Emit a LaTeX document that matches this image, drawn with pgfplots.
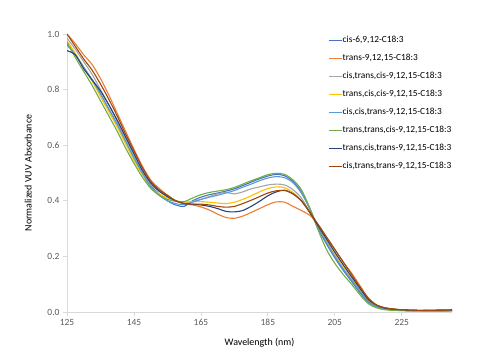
\documentclass[border=0pt]{standalone}
\usepackage{pgfplots}
\usepackage{pgfplotstable}
\pgfplotsset{compat=1.18}
\usepackage{fontspec}
\setmainfont{Carlito}
\definecolor{sA}{HTML}{4472C4}
\definecolor{sB}{HTML}{ED7D31}
\definecolor{sC}{HTML}{A5A5A5}
\definecolor{sD}{HTML}{FFC000}
\definecolor{sE}{HTML}{5B9BD5}
\definecolor{sF}{HTML}{70AD47}
\definecolor{sG}{HTML}{264478}
\definecolor{sH}{HTML}{9E480E}
\definecolor{axgray}{HTML}{D9D9D9}
\definecolor{txtgray}{HTML}{595959}
\pgfplotstableread{
x     a     b     c     d     e     f     g     h
125   .965  1.00  .985  .975  .96   .97   .94   1.00
127.5 .925  .965  .945  .93   .925  .915  .925  .955
130   .88   .925  .90   .88   .88   .865  .875  .91
132.5 .835  .89   .855  .83   .835  .815  .835  .87
135   .785  .84   .80   .775  .785  .76   .795  .82
137.5 .73   .78   .745  .72   .73   .705  .745  .765
140   .675  .715  .685  .665  .675  .65   .69   .705
142.5 .615  .65   .625  .605  .615  .59   .63   .64
145   .555  .585  .565  .545  .555  .535  .57   .58
147.5 .50   .525  .51   .495  .50   .485  .51   .52
150   .455  .475  .46   .45   .45   .445  .465  .47
152.5 .425  .445  .435  .425  .42   .42   .435  .44
155   .40   .42   .415  .41   .40   .405  .415  .42
157.5 .385  .40   .40   .40   .39   .398  .40   .40
160   .38   .39   .392  .395  .386  .397  .39   .39
162.5 .40   .385  .398  .397  .395  .41   .388  .388
165   .413  .378  .405  .397  .405  .422  .385  .388
167.5 .422  .367  .415  .395  .413  .43   .38   .385
170   .428  .352  .425  .392  .42   .435  .372  .38
172.5 .435  .34   .43   .39   .428  .44   .362  .377
175   .443  .337  .425  .395  .437  .448  .36   .38
177.5 .455  .345  .432  .405  .449  .46   .365  .39
180   .467  .358  .443  .418  .46   .472  .38   .402
182.5 .479  .372  .45   .432  .472  .483  .398  .415
185   .489  .386  .457  .444  .482  .494  .418  .428
187.5 .495  .396  .46   .45   .487  .499  .432  .436
190   .49   .395  .457  .447  .483  .495  .438  .437
192.5 .47   .38   .44   .43   .465  .475  .425  .425
195   .432  .365  .41   .40   .428  .44   .40   .40
197.5 .372  .348  .36   .358  .372  .375  .358  .36
200   .30   .315  .305  .305  .305  .295  .31   .315
202.5 .245  .27   .255  .255  .25   .225  .263  .27
205   .195  .225  .205  .205  .20   .175  .215  .225
207.5 .15   .18   .16   .16   .155  .135  .17   .18
210   .11   .14   .12   .118  .115  .10   .127  .135
212.5 .07   .095  .08   .078  .075  .062  .085  .09
215   .035  .05   .04   .042  .038  .03   .045  .05
217.5 .018  .025  .02   .022  .019  .015  .024  .025
220   .01   .015  .012  .013  .011  .008  .014  .015
222.5 .007  .011  .008  .009  .008  .006  .01   .011
225   .005  .008  .006  .007  .006  .005  .008  .008
230   .004  .006  .005  .005  .004  .004  .006  .006
235   .004  .005  .005  .005  .003  .004  .007  .006
240   .005  .006  .005  .005  .004  .004  .008  .007
}\data
\begin{document}
\begin{tikzpicture}
\path[use as bounding box] (-67bp,-45bp) rectangle (418bp,312bp);
\begin{axis}[
  scale only axis,
  width=385bp, height=278bp,
  xmin=125, xmax=240, ymin=0, ymax=1,
  xtick={125,145,165,185,205,225},
  ytick={0,0.2,0.4,0.6,0.8,1.0},
  yticklabel style={/pgf/number format/.cd,fixed,fixed zerofill,precision=1},
  /pgf/number format/assume math mode=true,
  axis x line*=bottom, axis y line*=left,
  axis line style={draw=axgray, line width=0.8bp, -},
  tick align=outside, major tick length=4bp,
  every tick/.style={draw=axgray, line width=0.8bp},
  tick label style={font=\fontsize{9.5}{11}\selectfont, text=txtgray},
  label style={font=\fontsize{10.6}{12}\selectfont, text=txtgray},
  xlabel={Wavelength (nm)},
  ylabel={Normalized VUV Absorbance},
  every axis x label/.style={at={(axis description cs:0.5,-0.112)}, anchor=center},
  every axis y label/.style={at={(axis description cs:-0.101,0.5)}, rotate=90, anchor=center},
  legend style={at={(0.67,1.004)}, anchor=north west, draw=none, fill=none,
    font=\fontsize{9.4}{11}\selectfont, text=black,
    nodes={inner sep=0.5bp, text height=7bp, text depth=2bp},
    row sep=8bp, legend cell align=left},
  legend image code/.code={\draw[#1] (0bp,0bp) -- (13bp,0bp);},
  every axis plot/.append style={line width=1.1bp, smooth, tension=0.5},
]
\addplot[sA] table[x=x,y=a]{\data};
\addlegendentry{cis-6,9,12-C18:3}
\addplot[sB] table[x=x,y=b]{\data};
\addlegendentry{trans-9,12,15-C18:3}
\addplot[sC] table[x=x,y=c]{\data};
\addlegendentry{cis,trans,cis-9,12,15-C18:3}
\addplot[sD] table[x=x,y=d]{\data};
\addlegendentry{trans,cis,cis-9,12,15-C18:3}
\addplot[sE] table[x=x,y=e]{\data};
\addlegendentry{cis,cis,trans-9,12,15-C18:3}
\addplot[sF] table[x=x,y=f]{\data};
\addlegendentry{trans,trans,cis-9,12,15-C18:3}
\addplot[sG] table[x=x,y=g]{\data};
\addlegendentry{trans,cis,trans-9,12,15-C18:3}
\addplot[sH] table[x=x,y=h]{\data};
\addlegendentry{cis,trans,trans-9,12,15-C18:3}
\end{axis}
\end{tikzpicture}
\end{document}
